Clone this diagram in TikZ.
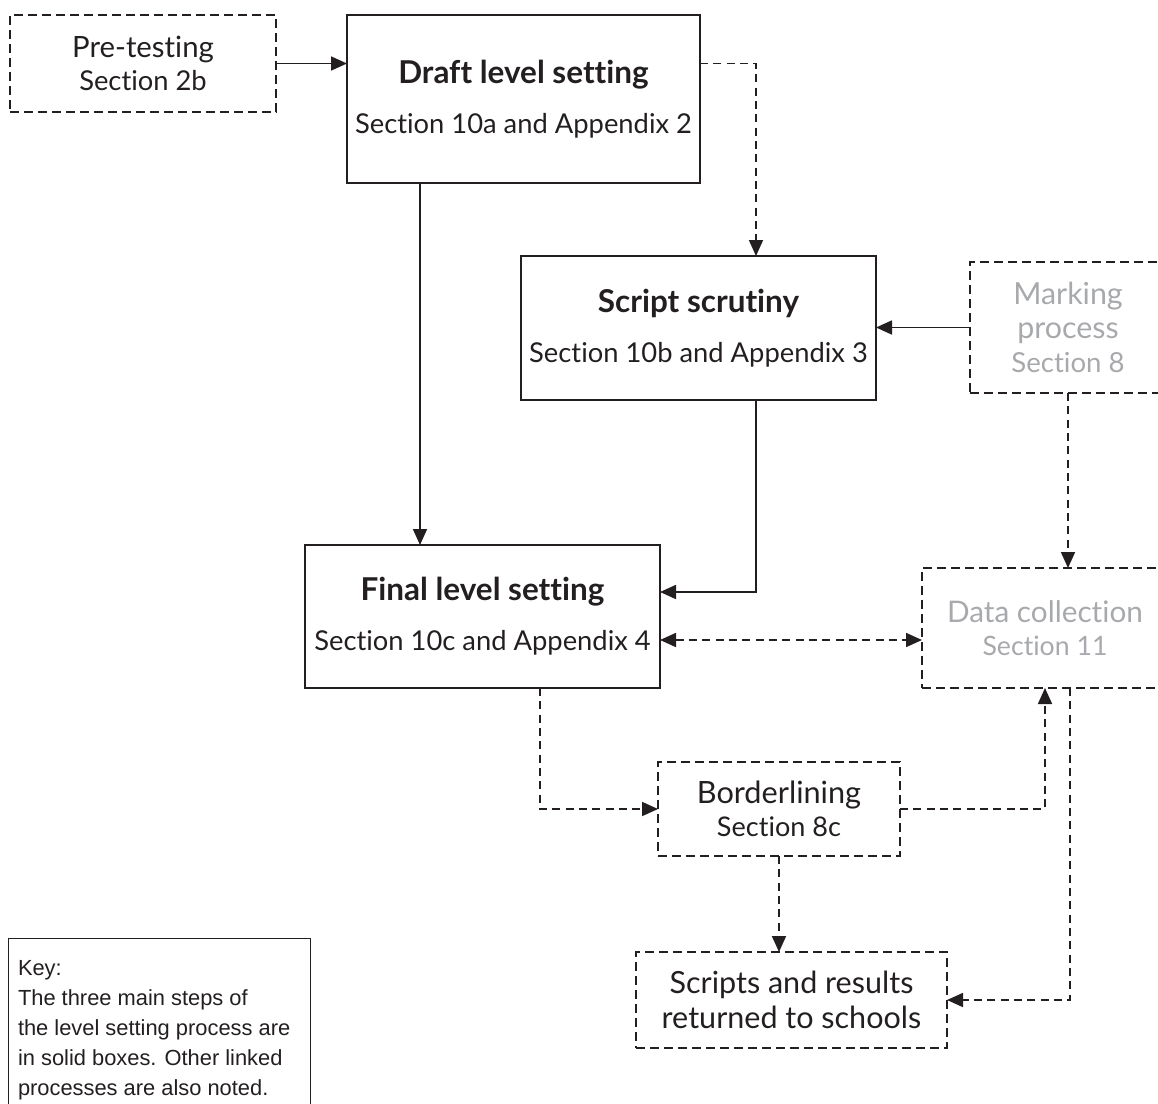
\documentclass[tikz,border=0pt]{standalone}
\usepackage{fontspec}
\setmainfont{Lato}[RawFeature=-liga]
\newfontfamily\keyfont{Liberation Sans}
\usetikzlibrary{arrows.meta,calc}
\definecolor{ink}{HTML}{231F20}
\definecolor{greytext}{HTML}{A7A9AC}
\newcommand\ssz{\fontsize{20.5}{25}\selectfont}
\newcommand\hsz{\fontsize{23.6}{23}\selectfont\bfseries}
\begin{document}
\begin{tikzpicture}[x=0.75pt,y=-0.75pt,
  every node/.style={inner sep=0pt, outer sep=0pt, text=ink},
  solidbox/.style={draw=ink, line width=1.6pt, align=center, font=\fontsize{20.5}{23}\selectfont},
  dashbox/.style={draw=ink, line width=1.9pt, dash pattern=on 6.5pt off 4pt, align=center},
  conn/.style={draw=ink, line width=1.3pt, -{Triangle[length=12pt,width=10.5pt]}},
  dconn/.style={conn, dash pattern=on 6pt off 4pt}]
\useasboundingbox (0,0) rectangle (1158,1104);
\clip (0,0) rectangle (1158,1104);

\node[dashbox, minimum width=199.5pt, minimum height=72.75pt, font=\fontsize{20.5}{24.75}\selectfont] (pre) at (143,63.5) {{\fontsize{22}{25}\selectfont Pre-testing}\\{\ssz Section 2b}};
\node[solidbox, minimum width=264.75pt, minimum height=126pt] (draft) at (523.5,99) {{\hsz Draft level setting}\\[14.5pt]{\ssz Section 10a and Appendix 2}};
\node[solidbox, minimum width=266.25pt, minimum height=108pt] (script) at (698.5,328) {{\hsz Script scrutiny}\\[14.5pt]{\ssz Section 10b and Appendix 3}};
\node[dashbox, minimum width=147pt, minimum height=98.25pt, text=greytext, font=\fontsize{22.8}{25.5}\selectfont] (mark) at (1068,327.5) {Marking\\process\\{\fontsize{20.7}{24}\selectfont Section 8}};
\node[solidbox, minimum width=266.25pt, minimum height=107.25pt] (final) at (482.5,616.5) {{\hsz Final level setting}\\[14.5pt]{\ssz Section 10c and Appendix 4}};
\node[dashbox, minimum width=184.5pt, minimum height=90pt, text=greytext, font=\fontsize{22.3}{24.75}\selectfont] (data) at (1045,628) {Data collection\\{\fontsize{20}{24}\selectfont Section 11}};
\node[dashbox, minimum width=181.5pt, minimum height=70.5pt, font=\fontsize{23}{24.75}\selectfont] (border) at (779,809) {Borderlining\\{\fontsize{20.3}{24}\selectfont Section 8c}};
\node[dashbox, minimum width=233.25pt, minimum height=72pt, font=\fontsize{22.9}{26.25}\selectfont] (scripts) at (791.5,1000) {Scripts and results\\returned to schools};
\node[draw=ink, line width=0.6pt, minimum width=226.5pt, minimum height=130pt, anchor=north west] (key) at (8,938) {};
\node[anchor=north west, align=left, font=\keyfont\fontsize{16.4}{22.5}\selectfont] (keytext) at (18,960) {Key:\\The three main steps of\\the level setting process are\\in solid boxes. Other linked\\processes are also noted.};

\coordinate (c1) at (420,0);
\coordinate (c2) at (756,592);
\coordinate (c3) at (0,640);
\coordinate (c4) at (540,0);
\coordinate (c5) at (1070,0);

\draw[conn] (pre.east) -- (pre.east -| draft.west);
\draw[dconn] (pre.east -| draft.east) -| ($(script.north)+(57.5,0)$);
\draw[conn] (draft.south -| c1) -- (final.north -| c1);
\draw[conn] (script.south -| c2) |- (final.east |- c2);
\draw[conn] (mark.west) -- (mark.west -| script.east);
\draw[dconn] (mark.south) -- (mark.south |- data.north);
\draw[dconn, {Triangle[length=12pt,width=10.5pt]}-{Triangle[length=12pt,width=10.5pt]}] (final.east |- c3) -- (data.west |- c3);
\draw[dconn] (final.south -| c4) |- (border.west);
\draw[dconn] (border.east) -| (data.south);
\draw[dconn] (border.south) -- (border.south |- scripts.north);
\draw[dconn] (data.south -| c5) |- (scripts.east);
\end{tikzpicture}
\end{document}
